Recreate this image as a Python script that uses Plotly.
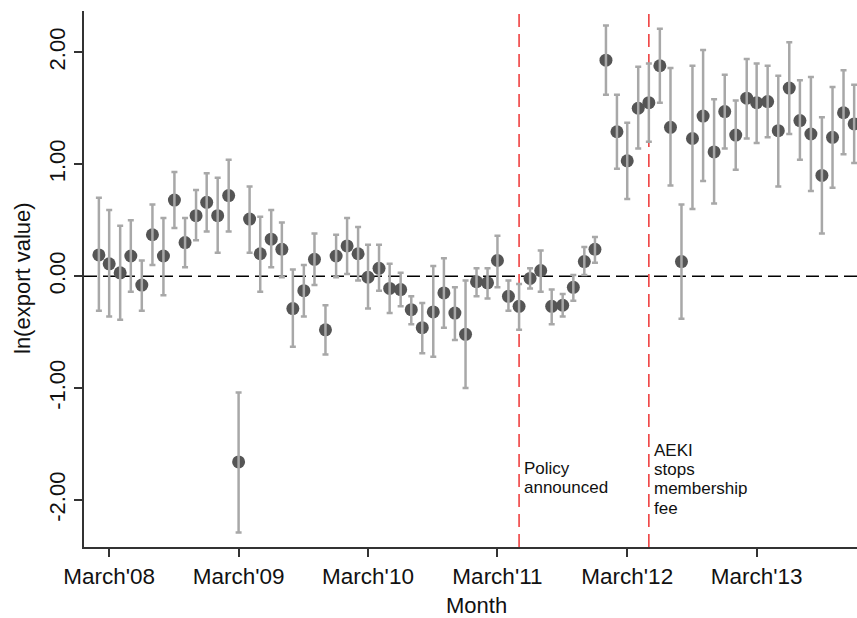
import pandas as pd
import plotly.graph_objects as go

# Monthly coefficients, Feb 2008 - Dec 2013
months = pd.date_range("2008-02-01", periods=71, freq="MS")

coef = [0.19, 0.11, 0.03, 0.18, -0.08, 0.37, 0.18, 0.68, 0.30, 0.54, 0.66,
        0.54, 0.72, -1.66, 0.51, 0.20, 0.33, 0.24, -0.29, -0.13, 0.15, -0.48,
        0.18, 0.27, 0.20, -0.01, 0.07, -0.11, -0.12, -0.30, -0.46, -0.32,
        -0.15, -0.33, -0.52, -0.05, -0.06, 0.14, -0.18, -0.27, -0.02, 0.05,
        -0.27, -0.26, -0.10, 0.13, 0.24, 1.93, 1.29, 1.03, 1.50, 1.55, 1.88,
        1.33, 0.13, 1.23, 1.43, 1.11, 1.47, 1.26, 1.59, 1.55, 1.56, 1.30,
        1.68, 1.39, 1.27, 0.90, 1.24, 1.46, 1.36]

ci_low = [-0.31, -0.36, -0.39, -0.14, -0.31, 0.10, -0.17, 0.43, 0.08, 0.32,
          0.40, 0.21, 0.40, -2.29, 0.21, -0.14, 0.08, -0.01, -0.63, -0.36,
          -0.08, -0.70, -0.01, 0.02, -0.04, -0.29, -0.13, -0.33, -0.27, -0.43,
          -0.69, -0.72, -0.46, -0.57, -1.00, -0.18, -0.20, -0.10, -0.31, -0.48,
          -0.11, -0.14, -0.43, -0.36, -0.22, 0.01, 0.12, 1.62, 0.96, 0.69,
          1.14, 1.20, 1.55, 0.81, -0.38, 0.60, 0.85, 0.65, 1.14, 0.95, 1.23,
          1.19, 1.24, 0.80, 1.27, 1.04, 0.76, 0.38, 0.79, 1.09, 1.01]

ci_high = [0.70, 0.59, 0.45, 0.50, 0.14, 0.64, 0.52, 0.93, 0.52, 0.77, 0.92,
           0.88, 1.04, -1.04, 0.80, 0.53, 0.59, 0.48, 0.06, 0.10, 0.38, -0.26,
           0.37, 0.52, 0.44, 0.28, 0.28, 0.11, 0.03, -0.18, -0.24, 0.09, 0.16,
           -0.10, -0.04, 0.07, 0.07, 0.36, -0.04, -0.07, 0.07, 0.23, -0.12,
           -0.16, 0.01, 0.26, 0.35, 2.24, 1.62, 1.37, 1.87, 1.90, 2.21, 1.86,
           0.64, 1.88, 2.02, 1.58, 1.80, 1.57, 1.94, 1.90, 1.88, 1.79, 2.09,
           1.75, 1.78, 1.42, 1.69, 1.84, 1.71]

# Axis ticks
x_tick_dates = ["2008-03-01", "2009-03-01", "2010-03-01",
                "2011-03-01", "2012-03-01", "2013-03-01"]
x_tick_text = ["March'08", "March'09", "March'10",
               "March'11", "March'12", "March'13"]
y_tick_vals = [-2, -1, 0, 1, 2]
y_tick_text = ["-2.00", "-1.00", "0.00", "1.00", "2.00"]

# Event markers
event_dates = ["2011-05-01", "2012-05-01"]
event_labels = [["Policy", "announced"], ["AEKI", "stops", "membership", "fee"]]
event_label_top = [0.146, 0.180]  # paper y of first text line

err_plus = [h - c for h, c in zip(ci_high, coef)]
err_minus = [c - l for c, l in zip(coef, ci_low)]

FONT = "Liberation Sans, Arial, sans-serif"
W, H = 857, 618
ML, MR, MT, MB = 84, 0, 11, 71
plot_h = H - MT - MB
plot_w = W - ML - MR

fig = go.Figure()

fig.add_trace(go.Scatter(
    x=months, y=coef, mode="markers",
    marker=dict(size=13, color="#555555", line=dict(width=0)),
    cliponaxis=False, showlegend=False, hoverinfo="skip",
))
# confidence intervals drawn over the point estimates
fig.add_trace(go.Scatter(
    x=months, y=coef, mode="markers",
    marker=dict(size=1, opacity=0),
    error_y=dict(type="data", symmetric=False, array=err_plus,
                 arrayminus=err_minus, color="#a8a8a8",
                 thickness=2.5, width=3),
    cliponaxis=False, showlegend=False, hoverinfo="skip",
))

shapes = [dict(type="line", xref="paper", yref="y", x0=0, x1=1, y0=0, y1=0,
               line=dict(color="black", width=1.5, dash="13px,6px"),
               layer="below")]
for d in event_dates:
    shapes.append(dict(type="line", xref="x", yref="paper", x0=d, x1=d,
                       y0=0, y1=1,
                       line=dict(color="#ee3535", width=1.5, dash="13px,7px"),
                       layer="below"))

line_step = 19.2 / plot_h
annotations = []
for d, lines, top in zip(event_dates, event_labels, event_label_top):
    for i, txt in enumerate(lines):
        annotations.append(dict(
            x=d, xref="x", y=top - i * line_step, yref="paper",
            text=txt, showarrow=False, xanchor="left", yanchor="middle",
            xshift=4, borderpad=0,
            font=dict(size=17, color="#111111", family=FONT)))

annotations.append(dict(
    text="Month", xref="paper", yref="paper", x=(476 - ML) / plot_w,
    y=-(605.5 - (H - MB)) / plot_h, showarrow=False, xanchor="center",
    yanchor="middle", borderpad=0,
    font=dict(size=22, color="#111111", family=FONT)))
annotations.append(dict(
    text="ln(export value)", xref="paper", yref="paper",
    x=-(ML - 22) / plot_w, y=(H - MB - 278) / plot_h, showarrow=False,
    xanchor="center", yanchor="middle", textangle=-90, borderpad=0,
    font=dict(size=22, color="#111111", family=FONT)))

fig.update_layout(
    width=W, height=H,
    margin=dict(l=ML, r=MR, t=MT, b=MB, pad=0),
    paper_bgcolor="white", plot_bgcolor="white",
    font=dict(family=FONT, color="#111111"),
    shapes=shapes, annotations=annotations,
    xaxis=dict(
        type="date", range=["2007-12-21", "2013-12-09"],
        tickvals=x_tick_dates, ticktext=x_tick_text,
        ticks="outside", ticklen=8, tickwidth=1.5, tickcolor="#333333",
        tickfont=dict(size=22.5), showgrid=False, zeroline=False,
        showline=True, linecolor="#333333", linewidth=1.5,
    ),
    yaxis=dict(
        range=[-2.42, 2.369],
        tickvals=y_tick_vals, ticktext=y_tick_text, tickangle=-90,
        ticks="outside", ticklen=8, tickwidth=1.5, tickcolor="#333333",
        tickfont=dict(size=22), showgrid=False, zeroline=False,
        showline=True, linecolor="#333333", linewidth=1.5,
    ),
)

fig.write_html("out.html")
